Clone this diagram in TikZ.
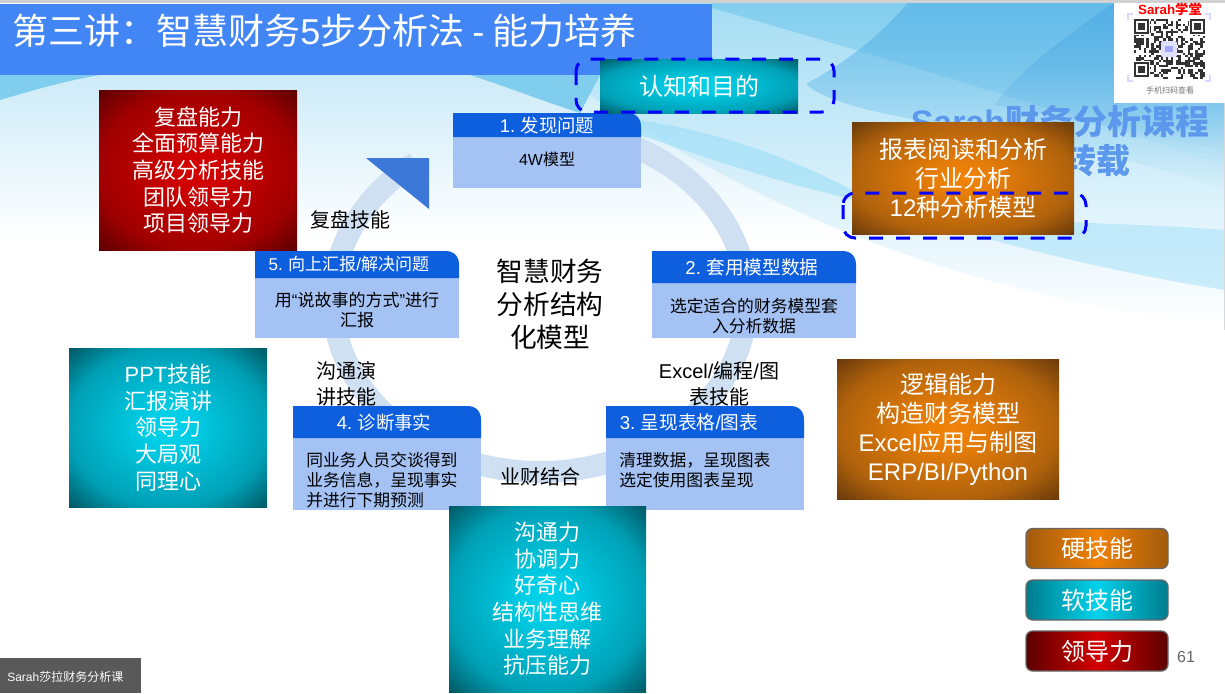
\documentclass[tikz,border=0pt]{standalone}
\usepackage{fontspec}
\setmainfont{Noto Sans CJK SC}
\newfontfamily\lafam{Liberation Sans}
\newcommand\la[1]{{\lafam #1}}
\usetikzlibrary{calc,fadings}
\definecolor{tA}{RGB}{0,210,235}\definecolor{tB}{RGB}{0,160,182}\definecolor{tC}{RGB}{0,88,100}
\definecolor{oA}{RGB}{240,130,8}\definecolor{oB}{RGB}{176,98,12}\definecolor{oC}{RGB}{105,58,10}
\definecolor{rA}{RGB}{212,0,0}\definecolor{rB}{RGB}{160,0,0}\definecolor{rC}{RGB}{92,0,0}
\definecolor{hdr}{RGB}{14,95,222}\definecolor{bodyc}{RGB}{164,194,244}
\definecolor{ttl}{RGB}{66,133,244}\definecolor{ring}{RGB}{207,224,242}
\definecolor{arr}{RGB}{60,120,216}\definecolor{wmc}{RGB}{92,152,236}
\definecolor{bgA}{RGB}{205,235,248}\definecolor{bgB}{RGB}{190,232,248}\definecolor{bgC}{RGB}{165,221,244}
\definecolor{bgD}{RGB}{128,205,238}\definecolor{bgE}{RGB}{90,182,232}\definecolor{bgF}{RGB}{72,165,226}
\definecolor{bgG}{RGB}{150,220,248}
\pgfdeclareradialshading{teals}{\pgfpoint{0bp}{0bp}}{color(0bp)=(tA);color(6bp)=(tA!90!tB);color(25bp)=(tB);color(35.4bp)=(tC);color(50bp)=(tC)}
\pgfdeclareradialshading{oranges}{\pgfpoint{0bp}{0bp}}{color(0bp)=(oA);color(6bp)=(oA!90!oB);color(25bp)=(oB);color(35.4bp)=(oC);color(50bp)=(oC)}
\pgfdeclareradialshading{reds}{\pgfpoint{0bp}{0bp}}{color(0bp)=(rA);color(6bp)=(rA!90!rB);color(25bp)=(rB);color(35.4bp)=(rC);color(50bp)=(rC)}
\def\u{0.75pt}
\tikzset{
 card/.style={shade,inner sep=0pt,text=white,align=center,font=\fontsize{16.5}{20}\selectfont},
 tealcard/.style={card,shading=teals},
 orangecard/.style={card,shading=oranges,font=\fontsize{18}{21.75}\selectfont},
 redcard/.style={card,shading=reds},
 legendcard/.style={inner sep=0pt,text=white,align=center,draw=black!60,line width=1pt,rounded corners=5pt,minimum width=142*\u,minimum height=40*\u,font=\fontsize{18}{21}\selectfont},
 dashbox/.style={draw=blue,line width=2.25pt,rounded corners=9pt,dash pattern=on 10.5pt off 9.7pt},
 label/.style={text=black,align=center,inner sep=0pt,font=\fontsize{15}{19.5}\selectfont},
 hd/.style={text=white,inner sep=0pt},
 bd/.style={text=black,inner sep=0pt,font=\fontsize{12.6}{15}\selectfont},
 wmark/.style={text=wmc,inner sep=0pt,font=\fontsize{25.5}{30}\selectfont\bfseries},
}
% name x1 y1 y2 x2 y3
\newcommand\stepbox[6]{%
 \fill[bodyc] (#2,#4) rectangle (#5,#6);
 \fill[hdr] (#2,#4) -- (#2,#3) -- (#5-14,#3) .. controls (#5-5,#3) and (#5,#3+5) .. (#5,#3+14) -- (#5,#4) -- cycle;
}
\begin{document}
\begin{tikzpicture}[x=0.75pt,y=-0.75pt]
\useasboundingbox (0,0) rectangle (1225,693);
\fill[white] (0,0) rectangle (1225,693);
% background
\shade[top color=bgA,bottom color=white] (0,75) rectangle (1225,240);
\shade[top color=bgC,bottom color=white] (560,75) .. controls (700,170) and (900,290) .. (1225,325) -- (1225,3) -- (560,3) -- cycle;
\fill[bgG,opacity=.55] (640,120) .. controls (730,135) and (800,160) .. (880,205) .. controls (780,185) and (700,155) .. (640,135) -- cycle;
\fill[bgG,opacity=.45] (880,205) .. controls (980,225) and (1100,220) .. (1225,230) -- (1225,290) .. controls (1100,270) and (980,240) .. cycle;
\fill[bgD,path fading=south,opacity=.9] (712,8) .. controls (830,42) and (1000,92) .. (1225,165) -- (1225,3) -- (712,3) -- cycle;
\fill[bgE,path fading=south,opacity=.75] (908,3) .. controls (880,35) and (850,60) .. (806,84) .. controls (850,125) and (1060,130) .. (1225,190) -- (1225,3) -- cycle;
\fill[bgF,path fading=south,opacity=.55] (1114,3) .. controls (1060,40) and (1020,70) .. (994,105) -- (1225,150) -- (1225,3) -- cycle;
\fill[bgD] (0,100) .. controls (40,88) and (70,80) .. (100,75) -- (0,75) -- cycle;
\fill[bgD] (470,75) .. controls (510,88) and (540,100) .. (580,113) -- (600,75) -- cycle;
% top line and right edge
\fill[black!18] (0,0) rectangle (1225,3);
\fill[black!15] (1224,103) rectangle (1225,330);
% watermark
\node[wmark] (wma) at (1060,122) {\la{\bfseries Sarah}财务分析课程};
\node[wmark] (wmb) at (1096,161) {转载};
% title
\fill[ttl] (0,4) rectangle (712,75);
\node[anchor=west,text=white,inner sep=0pt,font=\fontsize{27}{32}\selectfont] (title) at (12,31) {第三讲：智慧财务\la{5}步分析法 \la{-} 能力培养};
% QR
\fill[white] (1114,3) rectangle (1225,103);
\node[text=red,inner sep=0pt,font=\fontsize{10}{12}\selectfont\bfseries] (qrt) at (1170,9) {\la{\bfseries Sarah}学堂};
\node[text=black!55,inner sep=0pt,font=\fontsize{6}{7}\selectfont] (qrb) at (1170,90) {手机扫码查看};
\pgfmathsetseed{7}
\foreach \i in {0,...,28}{\foreach \j in {0,...,24}{
 \pgfmathparse{rnd>0.5?1:0}
 \ifnum\pgfmathresult=1
  \fill[black!80] ({1134+\i*2.45},{19+\j*2.4}) rectangle ++(2.45,2.4);
 \fi
}}
\foreach \qx/\qy in {1134/19,1190/19,1134/62}{
 \fill[white] (\qx-1,\qy-1) rectangle ++(17,17);
 \fill[black!80] (\qx,\qy) rectangle ++(15,15);
 \fill[white] (\qx+2,\qy+2) rectangle ++(11,11);
 \fill[black!80] (\qx+4,\qy+4) rectangle ++(7,7);
}
\fill[blue!12!white,rounded corners=1.5pt] (1161,41) rectangle ++(16,16);
\fill[blue!35!white] (1165,46) rectangle ++(8,6);
\draw[blue!15!white,line width=.8pt] (1128,20) |- (1133,14) (1205,14) -| (1210,20) (1128,75) |- (1133,81) (1205,81) -| (1210,75);
% ring and arrow head
\coordinate (rc) at (540,300);
\draw[ring,line width=16.5pt] (rc) ++(233:207 and 172) arc[start angle=233,end angle=-65,x radius=207,y radius=172];
\coordinate (a1) at (366,158);\coordinate (a2) at (429,158);\coordinate (a3) at (429,209);
\fill[arr] (a1) -- (a2) -- (a3) -- cycle;
% step boxes
\stepbox{sa}{453}{113}{137}{641}{188}
\stepbox{sb}{652}{251}{283}{856}{338}
\stepbox{sc}{606}{406}{438}{804}{510}
\stepbox{sd}{293}{406}{438}{481}{510}
\stepbox{se}{255}{251}{278}{459}{338}
\node[hd,font=\fontsize{13.8}{16}\selectfont] (ha) at (547,125) {\la{1.} 发现问题};
\node[bd,font=\fontsize{12}{15}\selectfont] (ba) at (547,159) {\la{4W}模型};
\node[hd,font=\fontsize{14}{16}\selectfont] (hb) at (752,267) {\la{2.} 套用模型数据};
\node[bd,align=center] (bb) at (754,316) {选定适合的财务模型套\\入分析数据};
\node[hd,font=\fontsize{14}{16}\selectfont] (hc) at (689,422) {\la{3.} 呈现表格\la{/}图表};
\node[bd,align=left,anchor=north west] (bc) at (619,452) {清理数据，呈现图表\\选定使用图表呈现};
\node[hd,font=\fontsize{13.8}{16}\selectfont] (hd) at (384,422) {\la{4.} 诊断事实};
\node[bd,align=left,anchor=north west] (bd) at (306,452) {同业务人员交谈得到\\业务信息，呈现事实\\并进行下期预测};
\node[hd,font=\fontsize{12.8}{15}\selectfont] (he) at (349,264) {\la{5.} 向上汇报\la{/}解决问题};
\node[bd,align=center,font=\fontsize{12.75}{15}\selectfont] (be) at (357,310) {用\la{“}说故事的方式\la{”}进行\\汇报};
% centre + labels
\node[label,font=\fontsize{20}{24.75}\selectfont] (cent) at (550,304) {智慧财务\\分析结构\\化模型};
\node[label] (l5) at (350,220) {复盘技能};
\node[label] (l4) at (346,384) {沟通演\\讲技能};
\node[label] (l3) at (719,384) {\la{Excel/}编程\la{/}图\\表技能};
\node[label] (l34) at (540,477) {业财结合};
% skill cards
\node[redcard,minimum width=198*\u,minimum height=160*\u] (lead) at (198,170) {复盘能力\\全面预算能力\\高级分析技能\\团队领导力\\项目领导力};
\node[tealcard,minimum width=198*\u,minimum height=159*\u] (softa) at (168,427.5) {\la{PPT}技能\\汇报演讲\\领导力\\大局观\\同理心};
\node[tealcard,minimum width=197*\u,minimum height=186*\u] (softb) at (547.5,599) {沟通力\\协调力\\好奇心\\结构性思维\\业务理解\\抗压能力};
\node[tealcard,minimum width=198*\u,minimum height=54*\u,font=\fontsize{18}{21}\selectfont] (aim) at (699,86) {认知和目的};
\node[orangecard,minimum width=222*\u,minimum height=112*\u] (harda) at (963,178) {报表阅读和分析\\行业分析\\\la{12}种分析模型};
\node[orangecard,minimum width=222*\u,minimum height=140*\u] (hardb) at (948,429) {逻辑能力\\构造财务模型\\\la{Excel}应用与制图\\\la{ERP/BI/Python}};
% dashed
\draw[dashbox] (576,59) rectangle (834,112);
\draw[dashbox] (843,193) rectangle (1086,238);
% legend
\node[legendcard,left color=oB!80!oC,right color=oB!80!oC,middle color=oA] (la) at (1097,548.5) {硬技能};
\node[legendcard,left color=tB!50!tC,right color=tB!50!tC,middle color=tA] (lb) at (1097,600) {软技能};
\node[legendcard,left color=rC,right color=rC,middle color=rA] (lc) at (1097,651) {领导力};
\node[text=black!60,inner sep=0pt,font=\fontsize{12}{14}\selectfont\lafam] (pg) at (1186,657) {61};
% footer
\fill[black!65] (0,658) rectangle (141,693);
\node[text=white,inner sep=0pt,font=\fontsize{9}{11}\selectfont,anchor=west] (ft) at (7,677) {\la{Sarah}莎拉财务分析课};
\end{tikzpicture}
\end{document}
